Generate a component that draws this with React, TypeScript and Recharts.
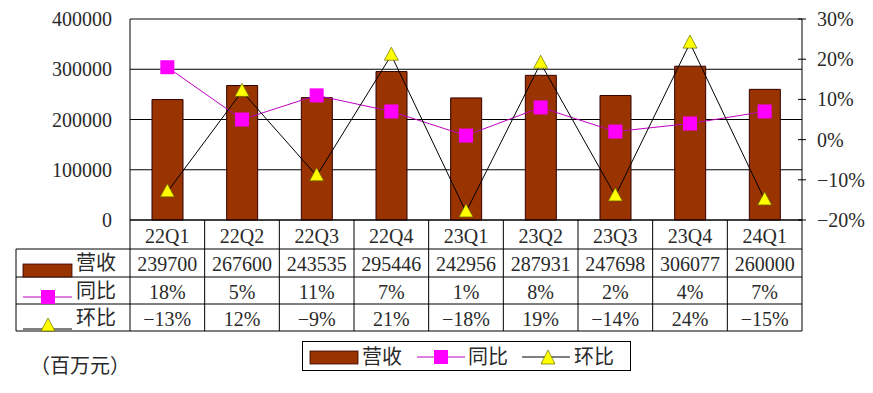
import { ComposedChart, Bar, Line, XAxis, YAxis, CartesianGrid, ReferenceLine } from 'recharts';

document.body.style.margin = '0';

const quarters = ['22Q1', '22Q2', '22Q3', '22Q4', '23Q1', '23Q2', '23Q3', '23Q4', '24Q1'];
const revenue = [239700, 267600, 243535, 295446, 242956, 287931, 247698, 306077, 260000];
const yoy = [18, 5, 11, 7, 1, 8, 2, 4, 7];
const qoq = [-13, 12, -9, 21, -18, 19, -14, 24, -15];
const leftTicks = [0, 100000, 200000, 300000, 400000];
const rightTicks = [-20, -10, 0, 10, 20, 30];

const W = 873;
const H = 393;
const PL = 130;
const PR = 802;
const PT = 19;
const PB = 220;
const FONT = '"Liberation Serif", "Noto Sans CJK SC", serif';
const BAR = '#993300';
const MAG = '#FF00FF';
const TXT = '#2a2a2a';

const data = quarters.map((q, i) => ({ q, rev: revenue[i], yoy: yoy[i], qoq: qoq[i] }));

function fmtPct(v: number) {
  return (v < 0 ? '−' + Math.abs(v) : String(v)) + '%';
}

function Square(props: any) {
  const { cx, cy } = props;
  if (cx == null || cy == null) return null;
  return <rect x={cx - 7} y={cy - 7} width={14} height={14} fill={MAG} />;
}

function Tri(props: any) {
  const { cx, cy } = props;
  if (cx == null || cy == null) return null;
  return (
    <path
      d={`M${cx},${cy - 8} L${cx + 7},${cy + 5} L${cx - 7},${cy + 5} Z`}
      fill="#FFFF00"
      stroke="#6b6b00"
      strokeWidth={0.7}
    />
  );
}

function LeftTick(props: any) {
  const { x, y, payload } = props;
  return (
    <text x={x - 18} y={y} textAnchor="end" dominantBaseline="central" fontSize={20} fontFamily={FONT} fill={TXT}>
      {payload.value}
    </text>
  );
}

function RightTick(props: any) {
  const { x, y, payload } = props;
  return (
    <g>
      <line x1={x - 4} x2={x + 4} y1={y} y2={y} stroke="#000" />
      <text x={x + 15} y={y} textAnchor="start" dominantBaseline="central" fontSize={20} fontFamily={FONT} fill={TXT}>
        {fmtPct(payload.value)}
      </text>
    </g>
  );
}

function DataTable() {
  const n = quarters.length;
  const cw = (PR - PL) / n;
  const rows = [220, 249, 277, 304, 331];
  const firstX = 16;
  const cellText = (i: number, r: number, s: string) => (
    <text
      key={`${r}-${i}`}
      x={PL + cw * i + cw / 2}
      y={(rows[r] + rows[r + 1]) / 2 + 1}
      textAnchor="middle"
      dominantBaseline="central"
      fontSize={20}
      fontFamily={FONT}
      fill={TXT}
    >
      {s}
    </text>
  );
  return (
    <g>
      {/* table grid */}
      <line x1={PL} x2={PR} y1={rows[0]} y2={rows[0]} stroke="#000" />
      {rows.slice(1).map((y) => (
        <line key={y} x1={firstX} x2={PR} y1={y} y2={y} stroke="#000" />
      ))}
      <line x1={firstX} x2={firstX} y1={rows[1]} y2={rows[4]} stroke="#000" />
      {quarters.map((_, i) => (
        <line key={i} x1={PL + cw * i} x2={PL + cw * i} y1={rows[0]} y2={rows[4]} stroke="#000" />
      ))}
      <line x1={PR} x2={PR} y1={rows[0]} y2={rows[4]} stroke="#000" />
      {quarters.map((q, i) => cellText(i, 0, q))}
      {revenue.map((v, i) => cellText(i, 1, String(v)))}
      {yoy.map((v, i) => cellText(i, 2, fmtPct(v)))}
      {qoq.map((v, i) => cellText(i, 3, fmtPct(v)))}
      {/* row keys */}
      <rect x={23} y={264} width={49} height={13} fill={BAR} stroke="#330000" strokeWidth={0.8} />
      <text x={76} y={263} dominantBaseline="central" fontSize={20} fontFamily={FONT} fill={TXT}>营收</text>
      <line x1={23} x2={72} y1={297} y2={297} stroke="#C000C0" />
      <rect x={41} y={290} width={14} height={14} fill={MAG} />
      <text x={76} y={291} dominantBaseline="central" fontSize={20} fontFamily={FONT} fill={TXT}>同比</text>
      <line x1={23} x2={72} y1={329} y2={329} stroke="#000" />
      <path d="M48,318 L55,331 L41,331 Z" fill="#FFFF00" stroke="#6b6b00" strokeWidth={0.7} />
      <text x={76} y={318} dominantBaseline="central" fontSize={20} fontFamily={FONT} fill={TXT}>环比</text>
      {/* legend box */}
      <rect x={302.5} y={341.5} width={328} height={29} fill="#fff" stroke="#000" />
      <rect x={310} y={351} width={48} height={13} fill={BAR} stroke="#330000" strokeWidth={0.8} />
      <text x={362} y={357} dominantBaseline="central" fontSize={20} fontFamily={FONT} fill={TXT}>营收</text>
      <line x1={417} x2={465} y1={357} y2={357} stroke="#C000C0" />
      <rect x={434} y={350} width={14} height={14} fill={MAG} />
      <text x={468} y={357} dominantBaseline="central" fontSize={20} fontFamily={FONT} fill={TXT}>同比</text>
      <line x1={522} x2={570} y1={357} y2={357} stroke="#000" />
      <path d="M548,350 L555,364 L541,364 Z" fill="#FFFF00" stroke="#6b6b00" strokeWidth={0.7} />
      <text x={574} y={357} dominantBaseline="central" fontSize={20} fontFamily={FONT} fill={TXT}>环比</text>
      <text x={30} y={366} dominantBaseline="central" fontSize={20} fontFamily={FONT} fill={TXT}>（百万元）</text>
    </g>
  );
}

export default function App() {
  return (
    <div style={{ position: 'relative', width: W, height: H, background: '#fff' }}>
      <ComposedChart
        width={W}
        height={H}
        data={data}
        margin={{ top: PT, bottom: H - PB, left: PL - 120, right: W - PR - 60 }}
      >
        <CartesianGrid vertical={false} stroke="#000" strokeWidth={1} yAxisId="left" />
        <XAxis dataKey="q" hide />
        <YAxis
          yAxisId="left"
          width={120}
          domain={[0, 400000]}
          ticks={leftTicks}
          tickLine={false}
          tickSize={0}
          tickMargin={0}
          axisLine={{ stroke: '#000' }}
          tick={<LeftTick />}
          interval={0}
        />
        <YAxis
          yAxisId="right"
          orientation="right"
          width={60}
          domain={[-20, 30]}
          ticks={rightTicks}
          tickLine={false}
          tickSize={0}
          tickMargin={0}
          axisLine={{ stroke: '#000' }}
          tick={<RightTick />}
          interval={0}
        />
        <ReferenceLine yAxisId="left" y={400000} stroke="#888" />
        <Bar yAxisId="left" dataKey="rev" barSize={31} fill={BAR} stroke="#330000" strokeWidth={1} isAnimationActive={false} />
        <Line yAxisId="right" dataKey="yoy" type="linear" stroke="#C000C0" strokeWidth={1} dot={<Square />} activeDot={false} isAnimationActive={false} />
        <Line yAxisId="right" dataKey="qoq" type="linear" stroke="#000" strokeWidth={1} dot={<Tri />} activeDot={false} isAnimationActive={false} />
      </ComposedChart>
      <svg width={W} height={H} style={{ position: 'absolute', left: 0, top: 0, pointerEvents: 'none' }}>
        <DataTable />
      </svg>
    </div>
  );
}
